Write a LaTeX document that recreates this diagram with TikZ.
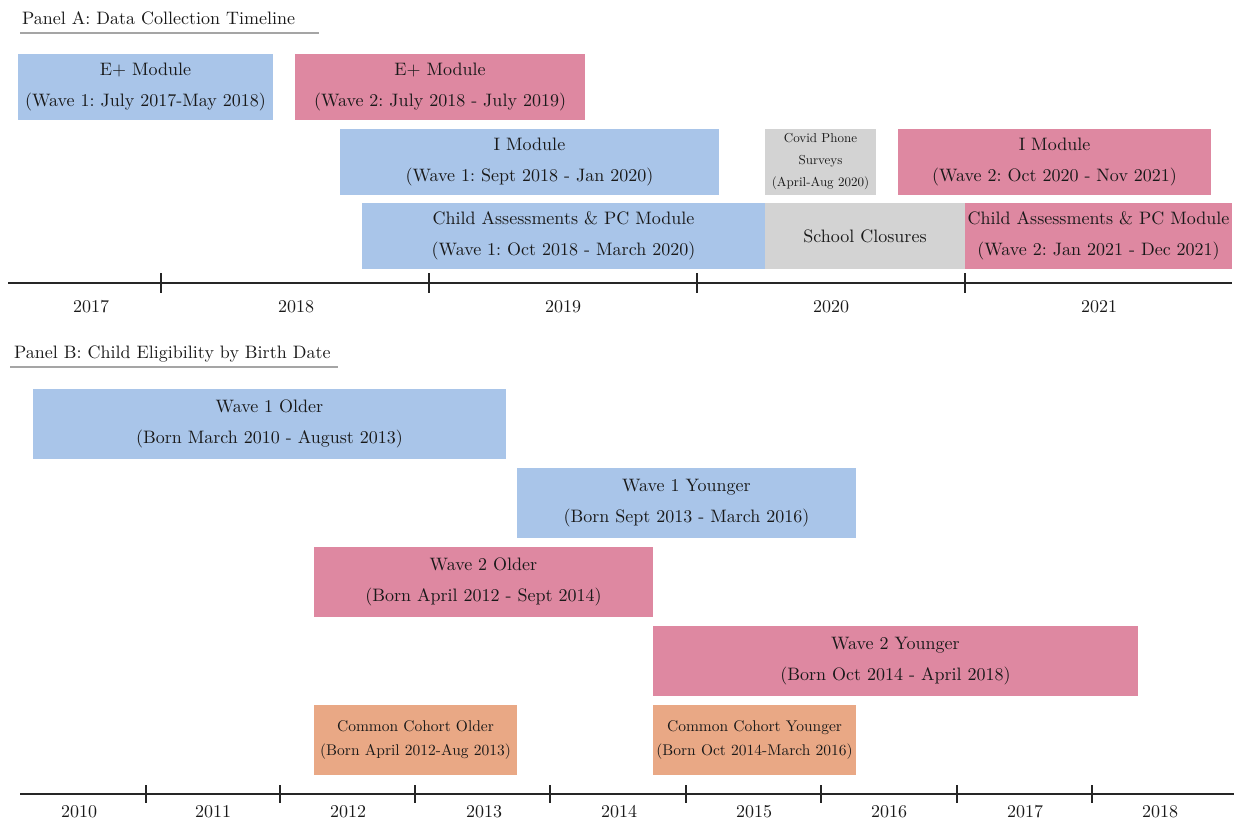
\documentclass[tikz,border=0pt]{standalone}
\usepackage{fontspec}
\setmainfont{lmroman10-regular}[Extension=.otf, BoldFont=lmroman10-bold, ItalicFont=lmroman10-italic]
\definecolor{wblue}{RGB}{169,197,233}
\definecolor{wpink}{RGB}{222,136,161}
\definecolor{wgray}{RGB}{211,211,211}
\definecolor{worange}{RGB}{233,168,133}
\definecolor{uline}{RGB}{165,165,165}
\definecolor{txt}{RGB}{25,25,25}
\tikzset{
  bar/.style={rectangle, inner sep=0pt, align=center, text=txt,
    font=\fontsize{18}{31}\selectfont},
  small/.style={font=\fontsize{13}{22}\selectfont},
  mid/.style={font=\fontsize{15.5}{24}\selectfont},
  year/.style={text=txt, font=\fontsize{18}{20}\selectfont},
  ttl/.style={text=txt, anchor=west, inner sep=0pt, font=\fontsize{18}{20}\selectfont},
  axis/.style={line width=1.5pt, black!85},
  tick/.style={line width=1.5pt, black!85},
  under/.style={line width=1.6pt, uline}
}
\begin{document}
\frenchspacing
\begin{tikzpicture}[x=1pt,y=-1pt]
\useasboundingbox (0,0) rectangle (1236,822);
% ---------- Panel A ----------
\node[ttl] (ta) at (22,18) {Panel A: Data Collection Timeline};
\coordinate (ua1) at (20,33); \coordinate (ua2) at (319,33);
\draw[under] (ua1) -- (ua2);

\node[bar, fill=wblue, minimum width=255, minimum height=66] (e1) at (145.5,87)
  {E+ Module\\(Wave 1: July 2017-May 2018)};
\node[bar, fill=wpink, minimum width=290, minimum height=66] (e2) at (440,87)
  {E+ Module\\(Wave 2: July 2018 - July 2019)};
\node[bar, fill=wblue, minimum width=379, minimum height=66] (i1) at (529.5,162)
  {I Module\\(Wave 1: Sept 2018 - Jan 2020)};
\node[bar, small, fill=wgray, minimum width=111, minimum height=66] (cov) at (820.5,162)
  {Covid Phone\\Surveys\\(April-Aug 2020)};
\node[bar, fill=wpink, minimum width=313, minimum height=66] (i2) at (1054.5,162)
  {I Module\\(Wave 2: Oct 2020 - Nov 2021)};
\node[bar, fill=wblue, minimum width=403, minimum height=66] (c1) at (563.5,236)
  {Child Assessments \& PC Module\\(Wave 1: Oct 2018 - March 2020)};
\node[bar, fill=wgray, minimum width=200, minimum height=66] (sc) at (865,236)
  {School Closures};
\node[bar, fill=wpink, minimum width=267, minimum height=66] (c2) at (1098.5,236)
  {Child Assessments \& PC Module\\(Wave 2: Jan 2021 - Dec 2021)};

\coordinate (aa1) at (8,283); \coordinate (aa2) at (1232,283);
\draw[axis] (aa1) -- (aa2);
\foreach \x [count=\i] in {161,429,697,965}{
  \coordinate (at\i a) at (\x,273); \coordinate (at\i b) at (\x,293);
  \draw[tick] (at\i a) -- (at\i b);
}
\node[year] (y17) at (91,307) {2017};
\node[year] (y18) at (296,307) {2018};
\node[year] (y19) at (563,307) {2019};
\node[year] (y20) at (831,307) {2020};
\node[year] (y21) at (1099,307) {2021};

% ---------- Panel B ----------
\node[ttl] (tb) at (14,354) {Panel B: Child Eligibility by Birth Date};
\coordinate (ub1) at (10,367); \coordinate (ub2) at (338,367);
\draw[under] (ub1) -- (ub2);

\node[bar, fill=wblue, minimum width=473, minimum height=70] (w1o) at (269.5,424)
  {Wave 1 Older\\(Born March 2010 - August 2013)};
\node[bar, fill=wblue, minimum width=339, minimum height=70] (w1y) at (686.5,503)
  {Wave 1 Younger\\(Born Sept 2013 - March 2016)};
\node[bar, fill=wpink, minimum width=339, minimum height=70] (w2o) at (483.5,582)
  {Wave 2 Older\\(Born April 2012 - Sept 2014)};
\node[bar, fill=wpink, minimum width=485, minimum height=70] (w2y) at (895.5,661)
  {Wave 2 Younger\\(Born Oct 2014 - April 2018)};
\node[bar, mid, fill=worange, minimum width=203, minimum height=70] (cco) at (415.5,740)
  {Common Cohort Older\\(Born April 2012-Aug 2013)};
\node[bar, mid, fill=worange, minimum width=203, minimum height=70] (ccy) at (754.5,740)
  {Common Cohort Younger\\(Born Oct 2014-March 2016)};

\coordinate (ba1) at (20,794); \coordinate (ba2) at (1234,794);
\draw[axis] (ba1) -- (ba2);
\foreach \x [count=\i] in {146,280,415,550,686,821,957,1092}{
  \coordinate (bt\i a) at (\x,785); \coordinate (bt\i b) at (\x,803);
  \draw[tick] (bt\i a) -- (bt\i b);
}
\foreach \x/\yr in {79/2010,213/2011,348/2012,484/2013,619/2014,754/2015,889/2016,1025/2017,1160/2018}{
  \node[year] (by\yr) at (\x,812) {\yr};
}
\end{tikzpicture}
\end{document}
